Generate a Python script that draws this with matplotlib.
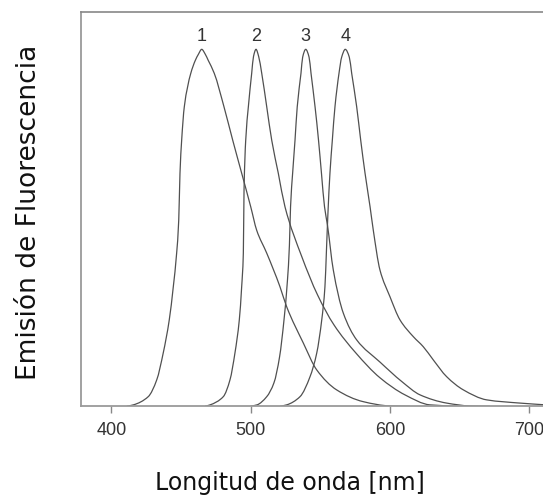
import matplotlib
matplotlib.use("Agg")
import matplotlib.pyplot as plt
from matplotlib.path import Path
from matplotlib.patches import PathPatch
import numpy as np

# ---- data ----
wl1 = [411.0, 415.8, 426.5, 432.6, 437.3, 441.6, 444.5, 446.9, 448.4, 449.3, 450.5,
       452.4, 457.0, 460.3, 462.5, 464.9, 467.5, 469.6, 473.9, 480.9, 487.2, 493.6,
       500.1, 504.4, 511.6, 521.1, 525.9, 537.9, 547.5, 561.8, 580.9, 600.1, 614.5]
em1 = [0.000, 0.004, 0.027, 0.074, 0.150, 0.242, 0.335, 0.429, 0.521, 0.653, 0.745,
       0.839, 0.932, 0.969, 0.986, 1.000, 0.986, 0.969, 0.933, 0.839, 0.745, 0.653,
       0.559, 0.493, 0.429, 0.335, 0.279, 0.177, 0.102, 0.046, 0.013, 0.001, 0.000]

wl2 = [467.3, 470.9, 480.4, 485.2, 488.8, 491.9, 493.6, 494.8, 495.3, 496.5, 498.4,
       500.8, 502.1, 503.9, 505.8, 508.0, 511.6, 515.2, 519.9, 524.7, 536.7, 548.1,
       559.9, 575.7, 592.9, 610.9, 628.8, 650.4]
em2 = [0.000, 0.004, 0.027, 0.074, 0.150, 0.242, 0.335, 0.429, 0.606, 0.745, 0.839,
       0.933, 0.980, 1.000, 0.980, 0.933, 0.839, 0.745, 0.653, 0.559, 0.420, 0.312,
       0.228, 0.149, 0.080, 0.032, 0.004, 0.000]

wl3 = [499.6, 504.6, 511.6, 516.8, 520.8, 524.0, 526.5, 527.9, 528.7, 530.2, 531.9,
       533.5, 536.2, 537.4, 539.6, 542.0, 543.4, 546.3, 548.8, 550.9, 553.1, 555.2,
       559.4, 566.6, 576.2, 592.9, 608.7, 621.7, 640.8, 657.6, 671.9]
em3 = [0.000, 0.004, 0.027, 0.066, 0.138, 0.242, 0.354, 0.452, 0.559, 0.653, 0.745,
       0.839, 0.933, 0.978, 1.000, 0.978, 0.933, 0.839, 0.745, 0.653, 0.559, 0.508,
       0.382, 0.261, 0.186, 0.124, 0.069, 0.032, 0.009, 0.001, 0.000]

wl4 = [521.1, 525.9, 535.5, 542.7, 547.5, 551.1, 553.4, 554.5, 555.5, 557.0, 558.7,
       560.6, 563.5, 565.4, 568.0, 570.9, 572.6, 576.2, 579.1, 582.2, 585.8, 588.1,
       592.9, 600.1, 607.3, 616.9, 624.0, 631.2, 640.8, 652.8, 669.6, 693.5, 712.0]
em4 = [0.000, 0.004, 0.027, 0.083, 0.149, 0.242, 0.335, 0.438, 0.536, 0.653, 0.745,
       0.839, 0.933, 0.978, 1.000, 0.978, 0.933, 0.839, 0.745, 0.653, 0.559, 0.494,
       0.382, 0.307, 0.242, 0.195, 0.167, 0.130, 0.083, 0.046, 0.018, 0.009, 0.004]

series_labels = ["1", "2", "3", "4"]
x_ticks = [400, 500, 600, 700]
x_label = "Longitud de onda [nm]"
y_label = "Emisión de Fluorescencia"


def smooth_path(x, y):
    """Monotone cubic (Fritsch-Carlson) segments drawn as Bezier curves
    through the read points."""
    x = np.asarray(x, float)
    y = np.asarray(y, float)
    h = np.diff(x)
    d = np.diff(y) / h
    m = np.zeros_like(y)
    m[0], m[-1] = d[0], d[-1]
    for k in range(1, len(x) - 1):
        if d[k - 1] * d[k] <= 0:
            m[k] = 0.0
        else:
            w1 = 2 * h[k] + h[k - 1]
            w2 = h[k] + 2 * h[k - 1]
            m[k] = (w1 + w2) / (w1 / d[k - 1] + w2 / d[k])
    verts = [(x[0], y[0])]
    codes = [Path.MOVETO]
    for k in range(len(x) - 1):
        verts += [(x[k] + h[k] / 3, y[k] + m[k] * h[k] / 3),
                  (x[k + 1] - h[k] / 3, y[k + 1] - m[k + 1] * h[k] / 3),
                  (x[k + 1], y[k + 1])]
        codes += [Path.CURVE4] * 3
    return Path(verts, codes)


# ---- figure ----
W, H = 543, 495
fig = plt.figure(figsize=(W / 100, H / 100), dpi=100)
ax = fig.add_axes([80.7 / W, (H - 406.3) / H, (W - 80.7) / W, (406.3 - 11.5) / H])

line_color = "#505050"
for wl, em, lab in zip([wl1, wl2, wl3, wl4], [em1, em2, em3, em4], series_labels):
    ax.add_patch(PathPatch(smooth_path(wl, em), facecolor="none",
                           edgecolor=line_color, lw=0.9))
    i = int(np.argmax(em))
    ax.text(wl[i], 1.035, lab, ha="center", va="center",
            fontsize=13, family="Liberation Sans", color="#333333")

ax.set_xlim(378, 710)
ax.set_ylim(0, 1.106)
ax.set_xticks(x_ticks)
ax.set_xticklabels([str(t) for t in x_ticks], family="Liberation Sans", fontsize=13,
                   color="#333333")
ax.set_yticks([])
ax.tick_params(axis="x", length=5, width=1.0, color="#888888", pad=6)

for s in ["left", "bottom"]:
    ax.spines[s].set_color("#9a9a9a")
    ax.spines[s].set_linewidth(1.3)
ax.spines["top"].set_color("#888888")
ax.spines["top"].set_linewidth(1.2)
ax.spines["right"].set_visible(False)

ax.set_xlabel(x_label, fontsize=17, color="#111111")
ax.xaxis.set_label_coords(0.4527, -0.194)
ax.xaxis.label.set_va("center")
ax.set_ylabel(y_label, fontsize=19, color="#111111")
ax.yaxis.set_label_coords(-0.112, 0.492)
ax.yaxis.label.set_va("center")

fig.savefig("out.png", dpi=100)
